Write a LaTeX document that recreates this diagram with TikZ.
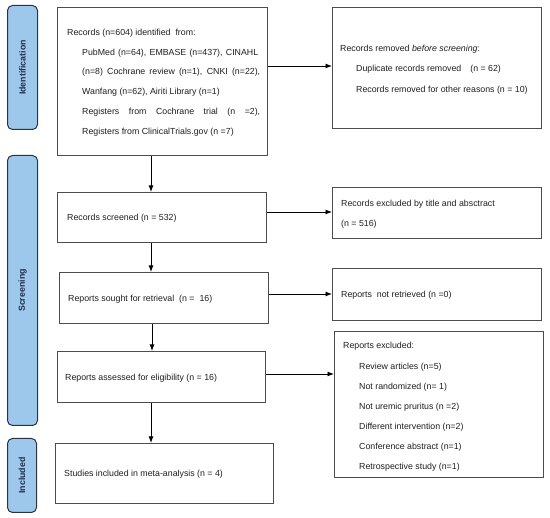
\documentclass[tikz,border=0pt]{standalone}
\usepackage{fontspec}
\setmainfont{Liberation Sans}
\usetikzlibrary{arrows.meta,calc}
\definecolor{sidefill}{HTML}{9DC8EC}
\definecolor{sidedraw}{HTML}{2A3440}
\definecolor{sidetext}{HTML}{1F2E4A}
\definecolor{boxdraw}{HTML}{4D4D4D}
\definecolor{txtcol}{HTML}{1E1E1E}
\begin{document}
\begin{tikzpicture}[x=1pt,y=-1pt,
  sidebar/.style={draw=sidedraw, fill=sidefill, rounded corners=5pt, line width=1pt, anchor=north west, inner sep=0},
  sidelabel/.style={rotate=90, font=\bfseries\fontsize{8.8}{10}\selectfont, text=sidetext, inner sep=0},
  flowbox/.style={draw=boxdraw, line width=1pt, anchor=north west, inner sep=0},
  txt/.style={anchor=base west, inner sep=0, text=txtcol, font=\fontsize{8.8}{10}\selectfont},
  arr/.style={-{Latex[length=6.5pt,width=5pt]}, line width=0.9pt, draw=black}]
\useasboundingbox (0,0) rectangle (550,518);
% side bars
\node[sidebar, minimum width=30pt, minimum height=124pt] (sid) at (7,5) {};
\node[sidebar, minimum width=30pt, minimum height=270pt] (sscr) at (7,155) {};
\node[sidebar, minimum width=29pt, minimum height=74pt] (sinc) at (7,438) {};
\node[sidelabel] (lid) at (sid.center) {Identification};
\node[sidelabel] (lscr) at (sscr.center) {Screening};
\node[sidelabel] (linc) at (sinc.center) {Included};
% main boxes
\node[flowbox, minimum width=210pt, minimum height=148pt] (rec) at (57,7) {};
\node[flowbox, minimum width=209pt, minimum height=50pt] (scr) at (57,192) {};
\node[flowbox, minimum width=209pt, minimum height=51pt] (sou) at (59,272) {};
\node[flowbox, minimum width=208pt, minimum height=51pt] (ass) at (57,351) {};
\node[flowbox, minimum width=218pt, minimum height=60pt] (inc) at (55,443) {};
% right boxes
\node[flowbox, minimum width=209pt, minimum height=121pt] (rem) at (332,7) {};
\node[flowbox, minimum width=209pt, minimum height=51pt] (exc) at (332,187) {};
\node[flowbox, minimum width=209pt, minimum height=52pt] (nre) at (332,268) {};
\node[flowbox, minimum width=209pt, minimum height=146pt] (rex) at (334,331) {};
% texts in records box
\node[txt] (t1) at (67,36) {Records (n=604) identified\ \ from:};
\node[txt] (t2) at (82,56) {\makebox[176pt][s]{PubMed (n=64), EMBASE (n=437), CINAHL}};
\node[txt] (t3) at (82,75) {\makebox[178pt][s]{(n=8) Cochrane review (n=1), CNKI (n=22),}};
\node[txt] (t4) at (82,95) {Wanfang (n=62), Airiti Library (n=1)};
\node[txt] (t5) at (82,115) {\makebox[178pt][s]{Registers from Cochrane trial (n =2),}};
\node[txt] (t6) at (82,135) {Registers from ClinicalTrials.gov (n =7)};
% removed box
\node[txt] (u1) at (340,52) {Records removed \textit{before screening}:};
\node[txt] (u2) at (356,72) {Duplicate records removed\hspace{9pt}(n = 62)};
\node[txt] (u3) at (356,93) {Records removed for other reasons (n = 10)};
% screened etc
\node[txt] (s1) at (67,221) {Records screened (n = 532)};
\node[txt] (e1) at (341,207) {Records excluded by title and absctract};
\node[txt] (e2) at (341,227) {(n = 516)};
\node[txt] (s2) at (68,302) {Reports sought for retrieval\ \ (n =\ \ 16)};
\node[txt] (n1) at (341,298) {Reports\ \ not retrieved (n =0)};
\node[txt] (s3) at (65,381) {Reports assessed for eligibility (n = 16)};
\node[txt] (x0) at (343,349) {Reports excluded:};
\node[txt] (x1) at (359,370) {Review articles (n=5)};
\node[txt] (x2) at (359,390) {Not randomized (n= 1)};
\node[txt] (x3) at (359,410) {Not uremic pruritus (n =2)};
\node[txt] (x4) at (359,430) {Different intervention (n=2)};
\node[txt] (x5) at (359,450) {Conference abstract (n=1)};
\node[txt] (x6) at (359,470) {Retrospective study (n=1)};
\node[txt] (s4) at (64,477) {Studies included in meta-analysis (n = 4)};
% connector helper coordinates
\coordinate (cx) at (151,0);
\coordinate (cx2) at (152,0);
\coordinate (h1) at (0,66);
\coordinate (h2) at (0,212);
\coordinate (h3) at (0,294);
\coordinate (h4) at (0,374);
% vertical arrows
\draw[arr] (rec.south -| cx) -- (scr.north -| cx);
\draw[arr] (scr.south -| cx) -- (sou.north -| cx);
\draw[arr] (sou.south -| cx2) -- (ass.north -| cx2);
\draw[arr] (ass.south -| cx) -- (inc.north -| cx);
% horizontal arrows
\draw[arr] (rec.east |- h1) -- (rem.west |- h1);
\draw[arr] (scr.east |- h2) -- (exc.west |- h2);
\draw[arr] (sou.east |- h3) -- (nre.west |- h3);
\draw[arr] (ass.east |- h4) -- (rex.west |- h4);
\end{tikzpicture}
\end{document}
